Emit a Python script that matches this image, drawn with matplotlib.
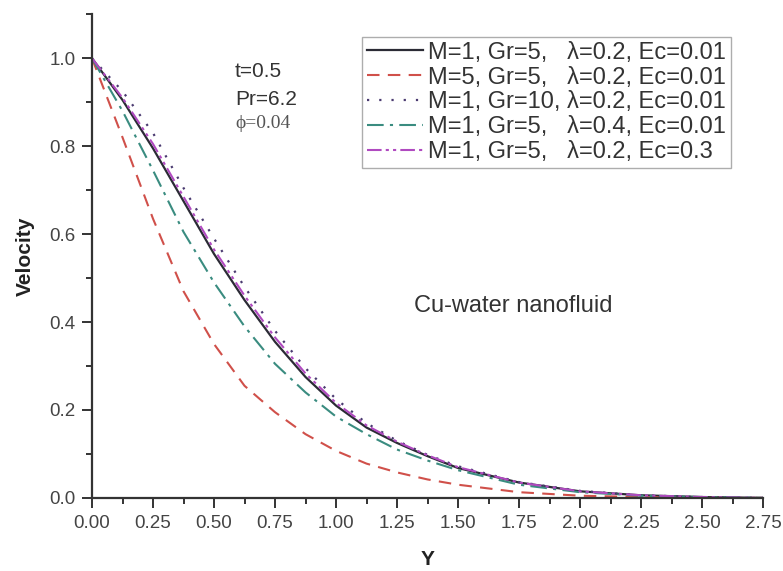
import numpy as np
import matplotlib.pyplot as plt
from matplotlib.ticker import MultipleLocator

plt.rcParams['font.family'] = ['Liberation Sans', 'DejaVu Sans']

# values
y_pos = [0.0, 0.125, 0.25, 0.375, 0.5, 0.625, 0.75, 0.875, 1.0, 1.125, 1.25, 1.375, 1.5, 1.75, 2.0, 2.25, 2.5, 2.75]
v_base = [1.0, 0.905, 0.795, 0.675, 0.555, 0.45, 0.355, 0.275, 0.21, 0.16, 0.125, 0.095, 0.068, 0.035, 0.015, 0.006, 0.002, 0.0]
v_m5 = [1.0, 0.82, 0.635, 0.47, 0.35, 0.255, 0.195, 0.145, 0.107, 0.078, 0.058, 0.042, 0.03, 0.013, 0.005, 0.002, 0.0, 0.0]
v_gr10 = [1.0, 0.925, 0.83, 0.705, 0.59, 0.48, 0.38, 0.295, 0.225, 0.17, 0.13, 0.098, 0.072, 0.036, 0.016, 0.006, 0.002, 0.0]
v_lam04 = [1.0, 0.88, 0.745, 0.605, 0.49, 0.39, 0.305, 0.24, 0.185, 0.145, 0.11, 0.085, 0.063, 0.03, 0.013, 0.005, 0.002, 0.0]
v_ec03 = [1.0, 0.91, 0.805, 0.685, 0.565, 0.46, 0.365, 0.283, 0.216, 0.165, 0.128, 0.097, 0.07, 0.035, 0.015, 0.006, 0.002, 0.0]

labels = [
    "M=1, Gr=5,   λ=0.2, Ec=0.01",
    "M=5, Gr=5,   λ=0.2, Ec=0.01",
    "M=1, Gr=10, λ=0.2, Ec=0.01",
    "M=1, Gr=5,   λ=0.4, Ec=0.01",
    "M=1, Gr=5,   λ=0.2, Ec=0.3",
]

fig = plt.figure(figsize=(7.83, 5.71), dpi=100)
ax = fig.add_axes([0.1175, 0.128, 0.857, 0.847])

ax.plot(y_pos, v_base, color='#2b2b35', lw=1.6, ls='-', label=labels[0])
ax.plot(y_pos, v_m5, color='#d0504a', lw=1.5, ls=(0, (6, 4)), label=labels[1])
ax.plot(y_pos, v_gr10, color='#4a3a70', lw=1.6, ls=(0, (1, 4.5)), label=labels[2])
ax.plot(y_pos, v_lam04, color='#3a8c80', lw=1.5, ls=(0, (8, 3, 1.5, 3)), label=labels[3])
ax.plot(y_pos, v_ec03, color='#b04ac0', lw=1.5, ls=(0, (7, 2, 1.5, 2, 1.5, 2)), label=labels[4])

ax.set_xlim(0, 2.75)
ax.set_ylim(0, 1.1)
ax.xaxis.set_minor_locator(MultipleLocator(0.125))
ax.yaxis.set_minor_locator(MultipleLocator(0.1))
xt = np.arange(0, 2.76, 0.25)
ax.set_xticks(xt)
ax.set_xticklabels(["%.2f" % v for v in xt])
ax.set_yticks([0.0, 0.2, 0.4, 0.6, 0.8, 1.0])
ax.set_yticklabels(["0.0", "0.2", "0.4", "0.6", "0.8", "1.0"])

for s in ['top', 'right']:
    ax.spines[s].set_visible(False)
for s in ['left', 'bottom']:
    ax.spines[s].set_color('#333333')
    ax.spines[s].set_linewidth(1.6)
ax.tick_params(which='major', direction='out', length=7, width=1.4, colors='#333333',
               labelsize=13.5, labelcolor='#444444', pad=5)
ax.tick_params(which='minor', direction='out', length=4, width=1.4, colors='#333333')

ax.set_xlabel('Y', fontsize=15, fontweight='bold', color='#222222', labelpad=13)
ax.set_ylabel('Velocity', fontsize=15, fontweight='bold', color='#222222', labelpad=10)

leg = ax.legend(loc='upper left', bbox_to_anchor=(362 / 783, 1 - 37 / 571),
                bbox_transform=fig.transFigure, fontsize=17, frameon=True,
                fancybox=False, handlelength=2.4, handletextpad=0.2,
                labelspacing=0.12, borderpad=0.2, borderaxespad=0)
leg.get_frame().set_edgecolor('#999999')
leg.get_frame().set_linewidth(1.0)
for t in leg.get_texts():
    t.set_color('#333333')

ax.text(0.586, 0.969, 't=0.5', fontsize=15, color='#333333', va='center')
ax.text(0.586, 0.906, 'Pr=6.2', fontsize=15, color='#333333', va='center')
ax.text(0.586, 0.852, 'ϕ=0.04', fontsize=14, color='#555555', va='center', family='Liberation Serif')
ax.text(1.725, 0.437, 'Cu-water nanofluid', fontsize=17, color='#333333', ha='center', va='center')

fig.savefig('out.png', dpi=100)
